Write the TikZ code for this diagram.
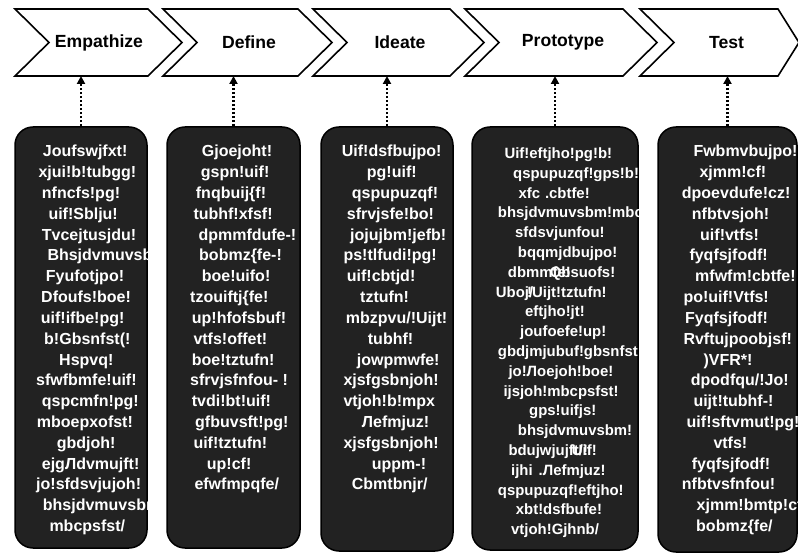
\documentclass[tikz,border=0pt]{standalone}
\usepackage{fontspec}
\setmainfont{Liberation Sans}
\usetikzlibrary{arrows.meta}
\definecolor{notefill}{HTML}{222222}
\tikzset{
  stage/.style={draw=black, line width=1.6pt, fill=white},
  stagelabel/.style={inner sep=0pt, font=\bfseries\fontsize{17.6}{20}\selectfont},
  notebox/.style={draw=black, line width=1.5pt, fill=notefill, rounded corners=18pt, inner sep=0pt},
  noteline/.style={anchor=base west, inner sep=0pt, text=white, font=\bfseries\fontsize{16}{19}\selectfont},
  smallline/.style={noteline, font=\bfseries\fontsize{14.9}{18}\selectfont},
  feeds/.style={line width=2.2pt, dash pattern=on 2pt off 2pt, -{Triangle[length=8pt,width=8pt]}}
}
\begin{document}
\begin{tikzpicture}[x=1pt,y=-1pt]
\useasboundingbox (0,0) rectangle (798,556);

% the five stages
\foreach \l/\r/\tip/\cx/\t/\n in {15/148/34/99/Empathize/emp, 163/298/34/249/Define/def, 313/450/34/400/Ideate/ide, 465/623/34/563/Prototype/pro, 640/778/21/726.5/Test/tst}{
  \draw[stage] (\l,9) -- (\r,9) -- (\r+\tip,42.5) -- (\r,76) -- (\l,76) -- (\l+34,42.5) -- cycle;
  \node[stagelabel] (\n) at (\cx,42.5) {\t};
  \coordinate (\n foot) at (\l,76);
}

% notes under each stage
\node[notebox, minimum width=132pt, minimum height=421pt] (empnote) at (81,337.5) {};
\node[notebox, minimum width=133pt, minimum height=421pt] (defnote) at (233.5,337.5) {};
\node[notebox, minimum width=132pt, minimum height=424pt] (idenote) at (387,339) {};
\node[notebox, minimum width=166pt, minimum height=423pt] (pronote) at (555,338.5) {};
\node[notebox, minimum width=139pt, minimum height=425pt] (tstnote) at (727.5,339.5) {};

\begin{scope}
  \clip[rounded corners=18pt] (empnote.north west) rectangle (empnote.south east);
  \foreach \x/\t [count=\i] in {42.7/{Joufswjfxt!}, 38.3/{xjui!b!tubgg!}, 41.7/{nfncfs!pg!}, 48.3/{uif!Sblju!}, 41.7/{Tvcejtusjdu!}, 47.3/{Bhsjdvmuvsbm!}, 45.7/{Fyufotjpo!}, 41/{Dfoufs!boe!}, 40.7/{uif!ifbe!pg!}, 44/{b!Gbsnfst(!}, 59/{Hspvq!}, 36/{sfwfbmfe!uif!}, 41.7/{qspcmfn!pg!}, 36.7/{mboepxofst!}, 56.7/{gbdjoh!}, 41.7/{ejgЛdvmujft!}, 36/{jo!sfdsvjujoh!}, 42.7/{bhsjdvmuvsbm!}, 49.3/{mbcpsfst/}}
    \node[noteline] (empline\i) at (\x,{157+(\i-1)*20.8}) {\t};
\end{scope}

\begin{scope}
  \clip[rounded corners=18pt] (defnote.north west) rectangle (defnote.south east);
  \foreach \x/\t [count=\i] in {201.7/{Gjoejoht!}, 200.7/{gspn!uif!}, 195.7/{fnqbuij\{f!}, 193.3/{tubhf!xfsf!}, 198.3/{dpmmfdufe-!}, 199/{bobmz\{fe-!}, 201.7/{boe!uifo!}, 190/{tzouiftj\{fe!}, 191.7/{up!hfofsbuf!}, 193.3/{vtfs!offet!}, 191.7/{boe!tztufn!}, 190/{sfrvjsfnfou- !}, 191.7/{tvdi!bt!uif!}, 195/{gfbuvsft!pg!}, 193.3/{uif!tztufn!}, 206.7/{up!cf!}, 194.3/{efwfmpqfe/}}
    \node[noteline] (defline\i) at (\x,{157+(\i-1)*20.8}) {\t};
\end{scope}

\begin{scope}
  \clip[rounded corners=18pt] (idenote.north west) rectangle (idenote.south east);
  \foreach \x/\t [count=\i] in {341.7/{Uif!dsfbujpo!}, 366.7/{pg!uif!}, 351.7/{qspupuzqf!}, 346.7/{sfrvjsfe!bo!}, 350/{jojujbm!jefb!}, 343.3/{ps!tlfudi!pg!}, 346.7/{uif!cbtjd!}, 360/{tztufn!}, 345.7/{mbzpvu/!Uijt!}, 367.7/{tubhf!}, 356.7/{jowpmwfe!}, 343.3/{xjsfgsbnjoh!}, 343.3/{vtjoh!b!mpx}, 361.7/{Лefmjuz!}, 343.3/{xjsfgsbnjoh!}, 371.7/{uppm-!}, 351.7/{Cbmtbnjr/}}
    \node[noteline] (ideline\i) at (\x,{157+(\i-1)*20.8}) {\t};
\end{scope}

\begin{scope}
  \clip[rounded corners=18pt] (pronote.north west) rectangle (pronote.south east);
  \foreach \x/\t [count=\i] in {504.3/{Uif!eftjho!pg!b!}, 513/{qspupuzqf!gps!b!}, 518.3/{xfc\hspace{5pt}.cbtfe!}, 497.7/{bhsjdvmuvsbm!mbcps}, 515/{sfdsvjunfou!}, 517.7/{bqqmjdbujpo!}, 507.7/{dbmmfe!\kern-21pt Qbsuofs!}, 495.7/{Uboj/\kern-6pt!Uijt!tztufn!}, 525/{eftjho!jt!}, 520/{joufoefe!up!}, 497.7/{gbdjmjubuf!gbsnfst!}, 508.3/{jo!Лoejoh!boe!}, 503.3/{ijsjoh!mbcpsfst!}, 529/{gps!uifjs!}, 517.7/{bhsjdvmuvsbm!}, 508.3/{bdujwjujft/!\kern-16pt Uif!}, 511/{ijhi\hspace{6pt}.Лefmjuz!}, 497.7/{qspupuzqf!eftjho!}, 515.7/{xbt!dsfbufe!}, 511/{vtjoh!Gjhnb/}}
    \node[smallline] (proline\i) at (\x,{158.5+(\i-1)*19.8}) {\t};
\end{scope}

\begin{scope}
  \clip[rounded corners=18pt] (tstnote.north west) rectangle (tstnote.south east);
  \foreach \x/\t [count=\i] in {693.3/{Fwbmvbujpo!}, 699.3/{xjmm!cf!}, 681.7/{dpoevdufe!cz!}, 691.7/{nfbtvsjoh!}, 700/{uif!vtfs!}, 689.3/{fyqfsjfodf!}, 695/{mfwfm!cbtfe!}, 683.3/{po!uif!Vtfs!}, 685/{Fyqfsjfodf!}, 683.3/{Rvftujpoobjsf!}, 703.3/{)VFR*!}, 690.7/{dpodfqu/!Jo!}, 693.3/{uijt!tubhf-!}, 686.5/{uif!sftvmut!pg!}, 713.3/{vtfs!}, 691.7/{fyqfsjfodf!}, 681.7/{nfbtvsfnfou!}, 696.5/{xjmm!bmtp!cf!}, 696/{bobmz\{fe/}}
    \node[noteline] (tstline\i) at (\x,{157+(\i-1)*20.8}) {\t};
\end{scope}

% dotted links up to the stages
\draw[feeds] (empnote.north) -- (empnote.north |- empfoot);
\draw[feeds] (defnote.north) -- (defnote.north |- deffoot);
\draw[feeds] (idenote.north) -- (idenote.north |- idefoot);
\draw[feeds] (pronote.north) -- (pronote.north |- profoot);
\draw[feeds] (tstnote.north) -- (tstnote.north |- tstfoot);
\end{tikzpicture}
\end{document}
